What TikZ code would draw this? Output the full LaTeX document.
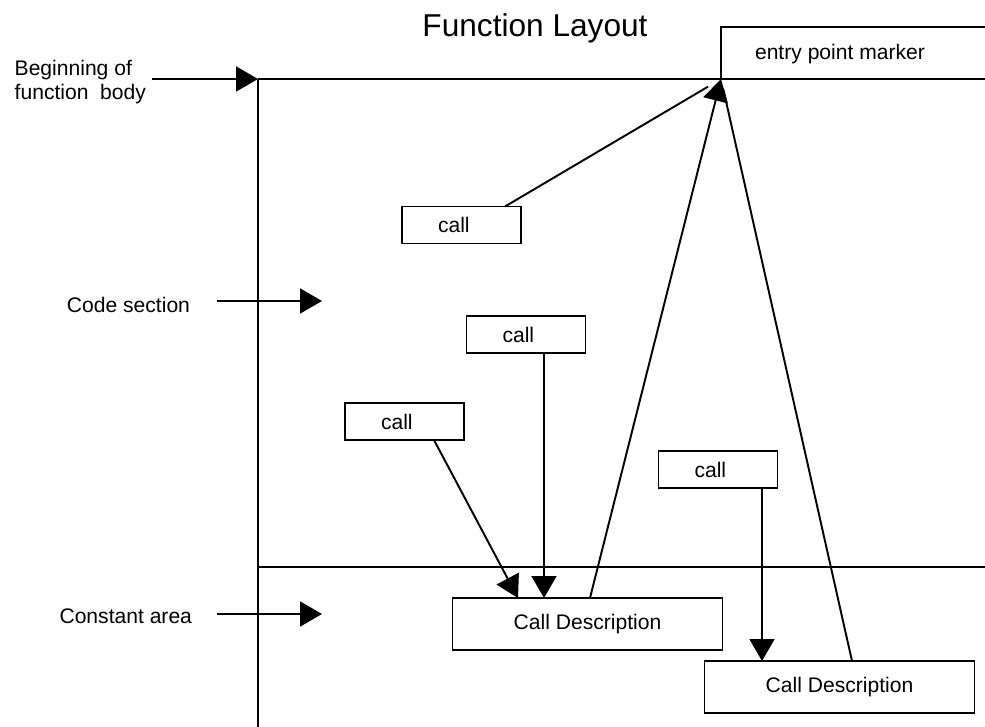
\documentclass[tikz,border=0pt]{standalone}
\usepackage{fontspec}
\setmainfont{Liberation Sans}
\usetikzlibrary{arrows.meta}
\tikzset{
  box/.style={draw, line width=1.1pt, inner sep=0pt, outer sep=0pt},
  callbox/.style={box, minimum width=23.8mm, minimum height=7.4mm, inner xsep=7.2mm, text width=9.4mm, align=left},
  descbox/.style={box, minimum width=54mm, minimum height=10.4mm},
  lbl/.style={inner sep=0pt},
  tri/.style={-{Triangle[length=4.4mm,width=5mm]}},
}
\begin{document}
\begin{tikzpicture}[x=0.2mm, y=-0.2mm, line width=1.1pt, font=\fontsize{12}{14}\selectfont]
        \useasboundingbox (0,0) rectangle (985,727);
        % Title
        \node[font=\fontsize{18}{22}\selectfont, anchor=base] (title) at (535,37) {Function Layout};
        % Frame of the function
        \coordinate (top) at (258,79);
        \coordinate (split) at (258,567);
        \draw (top) -- (985,79);
        \draw (top) -- (258,727);
        \draw (split) -- (985,567);
        % Entry point marker (open to the right)
        \coordinate (entry) at (721,79);
        \draw (entry) |- (985,27);
        \node (marker) at (840,54) {entry point marker};
        % Labels on the left
        \node[lbl, anchor=east, align=left, outer xsep=1.2mm] (begin) at (152,82) {Beginning of\\function~~body};
        \node[lbl, anchor=east, outer xsep=5.4mm] (code) at (217,305) {Code section};
        \node[lbl, anchor=east, outer xsep=5mm] (const) at (217,616) {Constant area};
        \coordinate (codehead) at (322,301);
        \coordinate (consthead) at (322,614);
        \draw[tri] (begin.east |- top) -- (top);
        \draw[tri] (code.east |- codehead) -- (codehead);
        \draw[tri] (const.east |- consthead) -- (consthead);
        % Calls
        \node[callbox] (c1) at (461.5,225) {call};
        \node[callbox] (c2) at (526,334.5) {call};
        \node[callbox] (c3) at (404.5,421.5) {call};
        \node[callbox] (c4) at (718,469.5) {call};
        % Call descriptions
        \node[descbox] (desc1) at (587.5,624) {Call Description};
        \node[descbox] (desc2) at (839.5,687) {Call Description};
        % Connectors
        \draw[shorten >=3mm] ([xshift=8.7mm]c1.north) -- (entry);
        \draw[tri] ([xshift=3.6mm]c2.south) -- ([xshift=-8.7mm]desc1.north);
        \draw[tri] ([xshift=5.9mm]c3.south) -- ([xshift=-13.9mm]desc1.north);
        \draw[tri] ([xshift=8.8mm]c4.south) -- ([xshift=-15.5mm]desc2.north);
        \draw[tri] ([xshift=0.5mm]desc1.north) -- (entry);
        \draw[shorten >=2mm] ([xshift=2.5mm]desc2.north) -- (entry);
\end{tikzpicture}
\end{document}
